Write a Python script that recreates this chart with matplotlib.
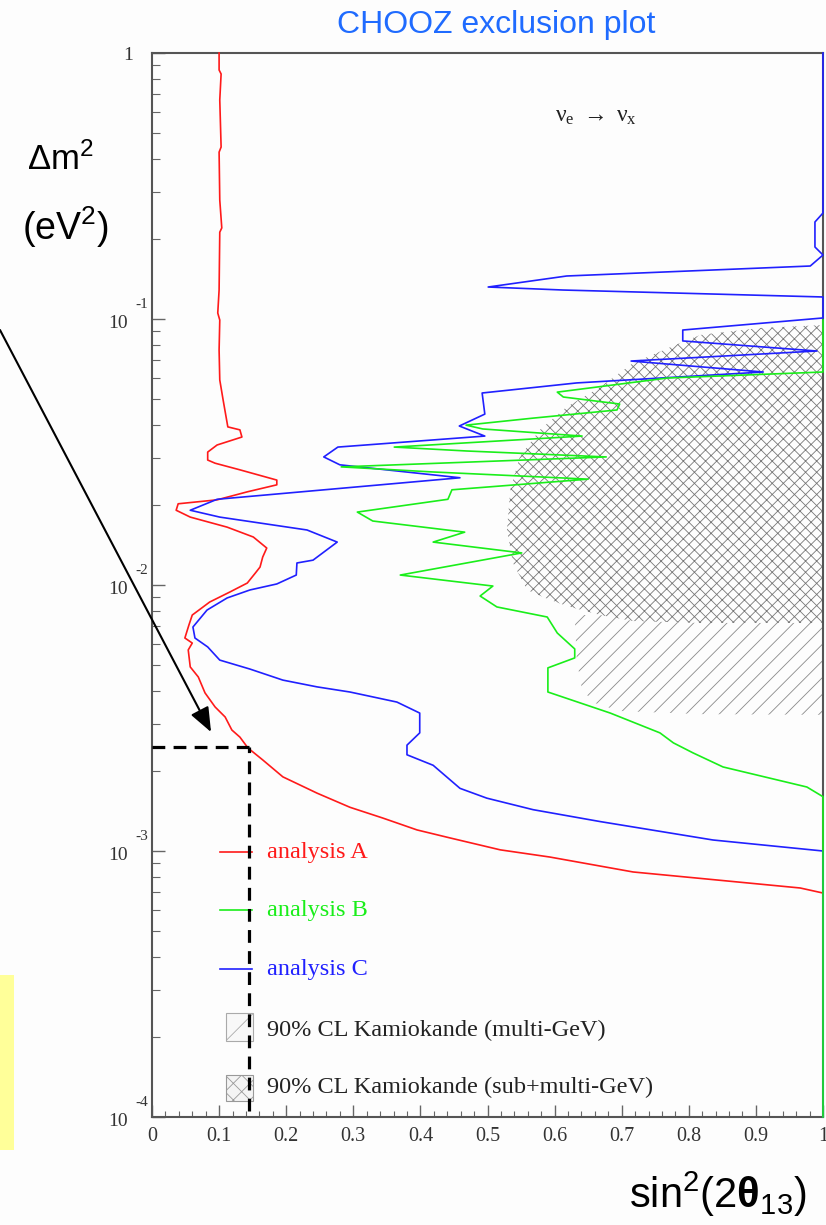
import matplotlib
matplotlib.use("Agg")
import matplotlib.pyplot as plt
from matplotlib.patches import Polygon, Rectangle
from matplotlib.ticker import LogLocator, NullFormatter, MultipleLocator
from matplotlib.transforms import offset_copy

# ---------------- data ----------------
# analysis A (red)
A_x = [0.100, 0.100, 0.103, 0.101, 0.103, 0.100, 0.101, 0.104, 0.101, 0.100,
       0.098, 0.101, 0.100, 0.101, 0.106, 0.113, 0.131, 0.134, 0.097, 0.083,
       0.083, 0.094, 0.131, 0.186, 0.186, 0.142, 0.097, 0.039, 0.036, 0.057,
       0.112, 0.151, 0.171, 0.165, 0.161, 0.154, 0.142, 0.116, 0.086, 0.060,
       0.055, 0.049, 0.060, 0.054, 0.057, 0.069, 0.079, 0.094, 0.109, 0.119,
       0.131, 0.143, 0.165, 0.195, 0.246, 0.295, 0.344, 0.395, 0.444, 0.519,
       0.593, 0.717, 0.842, 0.966, 1.0, 1.0]
A_dm2 = [1.0, 0.863, 0.834, 0.666, 0.443, 0.424, 0.280, 0.220, 0.212, 0.1285,
         0.1053, 0.0991, 0.0764, 0.0590, 0.0496, 0.0393, 0.0383, 0.0360, 0.0336, 0.0316,
         0.0295, 0.0287, 0.0271, 0.0248, 0.0238, 0.0224, 0.0209, 0.0202, 0.0191, 0.0180,
         0.0165, 0.01515, 0.01377, 0.01274, 0.01168, 0.01109, 0.01017, 0.00941, 0.00863, 0.00771,
         0.00707, 0.00632, 0.00605, 0.00570, 0.00492, 0.00451, 0.00393, 0.00348, 0.00319, 0.00285,
         0.00268, 0.00244, 0.00220, 0.00190, 0.00165, 0.00146, 0.00133, 0.00120, 0.00112, 0.00101,
         0.000949, 0.000834, 0.000778, 0.000726, 0.000695, 0.0001]

# analysis B (green)
B_x = [1.0, 1.0, 0.768, 0.604, 0.613, 0.697, 0.693, 0.568, 0.468, 0.493,
       0.641, 0.361, 0.469, 0.677, 0.282, 0.419, 0.650, 0.447, 0.441, 0.306,
       0.329, 0.466, 0.419, 0.551, 0.370, 0.508, 0.489, 0.514, 0.589, 0.604,
       0.630, 0.630, 0.590, 0.590, 0.683, 0.757, 0.777, 0.806, 0.851, 0.976,
       1.0, 1.0]
B_dm2 = [0.0991, 0.0632, 0.0600, 0.0531, 0.0509, 0.0479, 0.0455, 0.0424, 0.0399, 0.0386,
         0.0363, 0.0330, 0.0319, 0.0303, 0.0278, 0.0266, 0.0250, 0.0228, 0.0210, 0.0188,
         0.0174, 0.0158, 0.0145, 0.0132, 0.0109, 0.00991, 0.00909, 0.00827, 0.00758, 0.00660,
         0.00575, 0.00532, 0.00488, 0.00396, 0.00330, 0.00278, 0.00255, 0.00234, 0.00207, 0.00174,
         0.00160, 0.0001]

# analysis C (blue)
C_x = [1.0, 1.0, 0.988, 0.988, 1.0, 0.981, 0.618, 0.501, 0.613, 1.0,
       1.0, 0.791, 0.791, 0.991, 0.714, 0.911, 0.633, 0.492, 0.496, 0.458,
       0.496, 0.277, 0.256, 0.280, 0.459, 0.097, 0.057, 0.101, 0.231, 0.276,
       0.240, 0.216, 0.215, 0.186, 0.146, 0.112, 0.082, 0.061, 0.064, 0.083,
       0.101, 0.146, 0.195, 0.246, 0.295, 0.365, 0.399, 0.399, 0.380, 0.380,
       0.419, 0.459, 0.499, 0.568, 0.668, 0.836, 1.0, 1.0]
C_dm2 = [1.0, 0.2503, 0.2316, 0.1865, 0.1740, 0.1582, 0.1451, 0.1319, 0.1285, 0.1210,
         0.1009, 0.0909, 0.0827, 0.0758, 0.0695, 0.0632, 0.0575, 0.0527, 0.0439, 0.0396,
         0.0363, 0.0330, 0.0303, 0.0283, 0.0253, 0.0210, 0.0191, 0.0180, 0.0161, 0.0145,
         0.0124, 0.0121, 0.0109, 0.01009, 0.00958, 0.00894, 0.00805, 0.00695, 0.00632, 0.00585,
         0.00522, 0.00483, 0.00439, 0.00414, 0.00396, 0.00363, 0.00330, 0.00278, 0.00250, 0.00230,
         0.00210, 0.00172, 0.00158, 0.00143, 0.00129, 0.00110, 0.00100, 0.0001]

# Kamiokande 90% CL (sub+multi-GeV), cross-hatched
K2_x = [1.0, 0.906, 0.817, 0.787, 0.717, 0.668, 0.618, 0.578, 0.548, 0.534,
        0.529, 0.538, 0.559, 0.586, 0.618, 0.668, 0.717, 0.817, 1.0]
K2_dm2 = [0.0949, 0.0925, 0.0871, 0.0812, 0.0683, 0.0555, 0.0467, 0.0383, 0.0303, 0.0228,
          0.0161, 0.0121, 0.00958, 0.00894, 0.00834, 0.00771, 0.00732, 0.00720, 0.00720]

# Kamiokande 90% CL (multi-GeV), single hatch (part outside the cross-hatched area)
K1_x = [0.630, 0.668, 0.717, 0.817, 1.0, 1.0, 0.817, 0.697, 0.660, 0.641, 0.633]
K1_dm2 = [0.00771, 0.00771, 0.00732, 0.00720, 0.00720, 0.00325, 0.00327, 0.00336, 0.00360,
          0.00403, 0.00522]

# CHOOZ limit marker and arrow tip
limit_x = 0.144
limit_dm2 = 0.00245
arrow_tip = (0.088, 0.0028)
nu_pos = (0.60, 0.575)

x_ticks = [0, 0.1, 0.2, 0.3, 0.4, 0.5, 0.6, 0.7, 0.8, 0.9, 1.0]
x_labels = ["0", "0.1", "0.2", "0.3", "0.4", "0.5", "0.6", "0.7", "0.8", "0.9", "1"]
y_ticks = [1e-4, 1e-3, 1e-2, 1e-1, 1.0]
y_exps = ["-4", "-3", "-2", "-1", ""]

legend_labels = ["analysis A", "analysis B", "analysis C",
                 "90% CL Kamiokande (multi-GeV)", "90% CL Kamiokande (sub+multi-GeV)"]

# ---------------- style ----------------
plt.rcParams['mathtext.fontset'] = 'custom'
plt.rcParams['mathtext.rm'] = 'Liberation Sans'
plt.rcParams['mathtext.it'] = 'Liberation Sans'
plt.rcParams['mathtext.bf'] = 'Liberation Sans:bold'
plt.rcParams['mathtext.default'] = 'regular'
plt.rcParams['hatch.linewidth'] = 0.6

RED = '#ff1a1a'
GREEN = '#1aee1a'
BLUE = '#2020ff'
SERIF = 'Liberation Serif'
SANS = 'Liberation Sans'

W, H = 826, 1225
fig = plt.figure(figsize=(W / 100, H / 100), dpi=100, facecolor='#fdfdfd')
ax = fig.add_axes([152 / W, 1 - 1117 / H, 671 / W, 1064 / H])
ax.set_facecolor('#fdfdfd')
ax.set_xlim(0, 1)
ax.set_yscale('log')
ax.set_ylim(1e-4, 1)

# hatched Kamiokande regions
ax.add_patch(Polygon(list(zip(K1_x, K1_dm2)), closed=True, facecolor='none',
                     edgecolor='#8a8a8a', hatch='//', lw=0, zorder=1))
ax.add_patch(Polygon(list(zip(K2_x, K2_dm2)), closed=True, facecolor='none',
                     edgecolor='#777777', hatch='xxx', lw=0, zorder=1))

# curves
ax.plot(A_x, A_dm2, color=RED, lw=1.2, zorder=3, clip_on=False)
ax.plot(C_x, C_dm2, color=BLUE, lw=1.2, zorder=3.1, clip_on=False)
ax.plot(B_x, B_dm2, color=GREEN, lw=1.2, zorder=3.2, clip_on=False)

# CHOOZ limit dashed lines
ax.plot([0, limit_x], [limit_dm2, limit_dm2], color='black', lw=2.3,
        linestyle=(0, (4, 2.6)), zorder=4)
ax.plot([limit_x, limit_x], [1.05e-4, limit_dm2], color='black', lw=2.3,
        linestyle=(0, (4, 2.6)), zorder=4)

# arrow from outside the axes
ax.annotate('', xy=arrow_tip, xycoords='data',
            xytext=(0.0, 1 - 330 / H), textcoords='figure fraction',
            arrowprops=dict(arrowstyle='-|>,head_length=0.75,head_width=0.3',
                            color='black', lw=1.5, mutation_scale=20,
                            shrinkA=0, shrinkB=0),
            annotation_clip=False, zorder=5)

# nu_e -> nu_x
ax.text(nu_pos[0], nu_pos[1], r'ν$_e$ $\rightarrow$ ν$_x$', fontsize=17,
        family=SERIF, math_fontfamily='stix', ha='left', va='center', color='#222222')

# spines and ticks
for s in ax.spines.values():
    s.set_color('#555555')
    s.set_linewidth(1.5)
ax.set_xticks(x_ticks, x_labels)
ax.xaxis.set_minor_locator(MultipleLocator(0.02))
ax.set_yticks(y_ticks, [''] * len(y_ticks))
ax.yaxis.set_minor_locator(LogLocator(base=10, subs=[2, 3, 4, 5, 6, 7, 8, 9], numticks=20))
ax.yaxis.set_minor_formatter(NullFormatter())
ax.tick_params(axis='x', which='major', direction='in', length=8.5, width=1.0,
               color='#666666', pad=7, labelsize=14.5, labelcolor='#333333', top=False)
ax.tick_params(axis='x', which='minor', direction='in', length=4, width=0.8,
               color='#666666', top=False)
ax.tick_params(axis='y', which='major', direction='in', length=9.5, width=1.0,
               color='#666666', right=False)
ax.tick_params(axis='y', which='minor', direction='in', length=5.5, width=0.8,
               color='#666666', right=False)
for lab in ax.get_xticklabels():
    lab.set_fontfamily(SERIF)

# y tick labels in ROOT style
ytrans = ax.get_yaxis_transform()
t_base = offset_copy(ytrans, fig=fig, x=0, y=-4, units='dots')
t_exp = offset_copy(ytrans, fig=fig, x=0, y=14, units='dots')
for yv, ex in zip(y_ticks, y_exps):
    if ex == "":
        ax.text(-0.028, yv, "1", transform=offset_copy(ytrans, fig=fig, y=-2, units='dots'),
                ha='right', va='center', fontsize=14, family=SERIF, color='#333333')
    else:
        ax.text(-0.036, yv, "10", transform=t_base, ha='right', va='center',
                fontsize=14, family=SERIF, color='#333333', clip_on=False)
        ax.text(-0.025, yv, ex, transform=t_exp, ha='left', va='center',
                fontsize=11, family=SERIF, color='#333333', clip_on=False)

# hand-placed legend (ROOT style)
line_y = [0.249, 0.1945, 0.139]
for yy, col, lab in zip(line_y, [RED, GREEN, BLUE], legend_labels[:3]):
    ax.plot([0.101, 0.149], [yy, yy], transform=ax.transAxes, color=col, lw=1.2, zorder=3)
    ax.text(0.171, yy, lab, transform=ax.transAxes, ha='left', va='center',
            fontsize=17.5, family=SERIF, color=col)
ax.add_patch(Rectangle((0.110, 0.0714), 0.041, 0.0263, transform=ax.transAxes,
                       facecolor='#f8f8f8', edgecolor='#aaaaaa', hatch='/', lw=0.8, zorder=2))
ax.add_patch(Rectangle((0.110, 0.0150), 0.041, 0.0245, transform=ax.transAxes,
                       facecolor='#f4f4f4', edgecolor='#999999', hatch='xx', lw=0.8, zorder=2))
ax.text(0.171, 0.0818, legend_labels[3], transform=ax.transAxes, ha='left', va='center',
        fontsize=17.5, family=SERIF, color='#222222')
ax.text(0.171, 0.0273, legend_labels[4], transform=ax.transAxes, ha='left', va='center',
        fontsize=17.5, family=SERIF, color='#222222')

# figure-level labels
fig.text(496 / W, 1 - 33 / H, 'CHOOZ exclusion plot', ha='center', va='baseline',
         fontsize=23, color='#1f6bff', family=SANS)
fig.text(27 / W, 1 - 170 / H, 'Δm$^2$', ha='left', va='baseline', fontsize=25,
         family=SANS, color='black')
fig.text(22 / W, 1 - 240 / H, '(eV$^2$)', ha='left', va='baseline', fontsize=27,
         family=SANS, color='black')
fig.text(807 / W, 1 - 1208 / H, r'sin$^2$(2$\mathbf{θ}_{13}$)', ha='right', va='baseline',
         fontsize=30, family=SANS, color='black')

# yellow marker box at the left edge
fig.patches.append(Rectangle((0, 1 - 1150 / H), 14 / W, 175 / H, transform=fig.transFigure,
                             facecolor='#ffff99', edgecolor='none'))

fig.savefig('out.png', dpi=100, facecolor=fig.get_facecolor())
